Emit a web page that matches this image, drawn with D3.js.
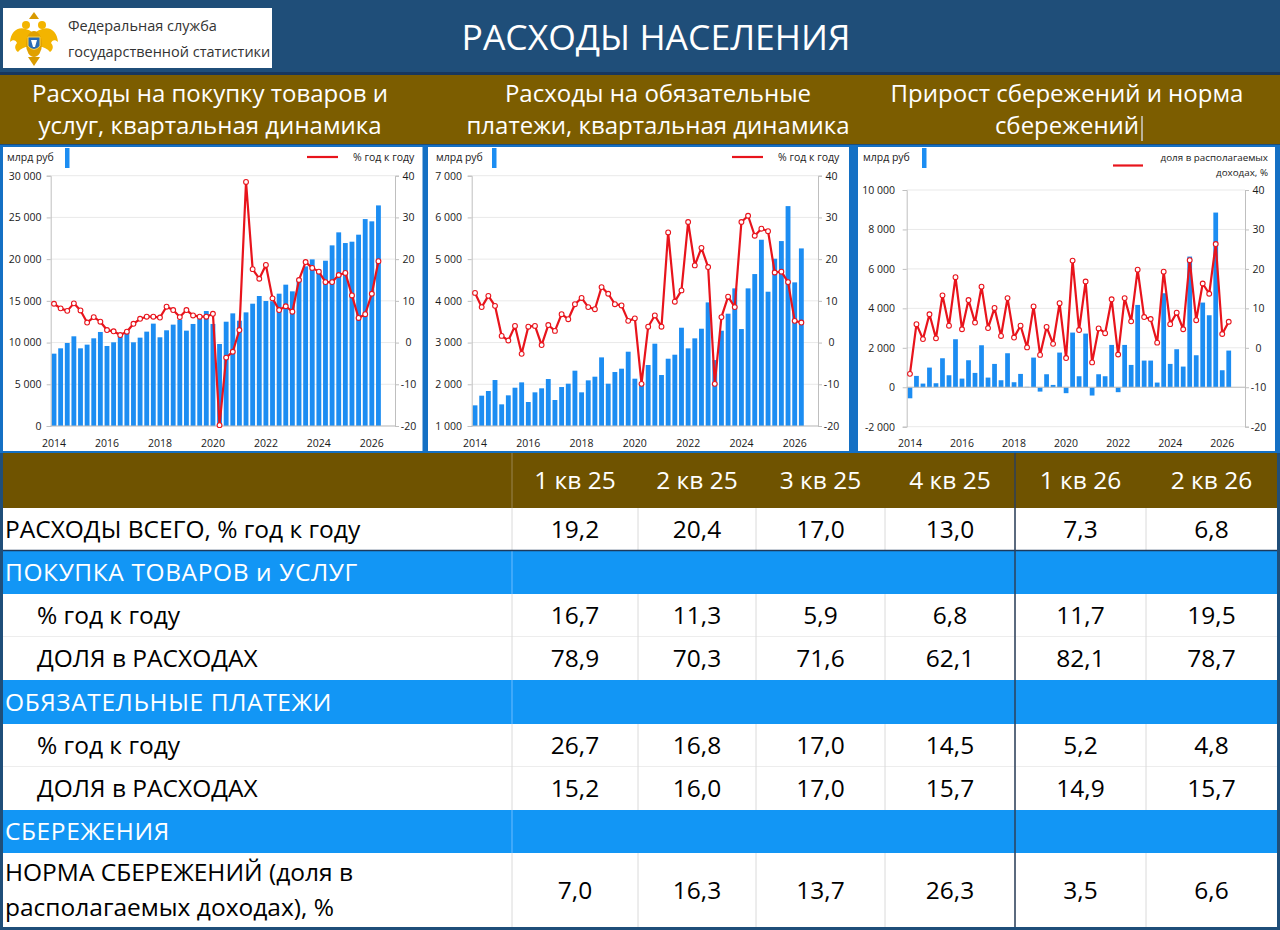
<!DOCTYPE html>
<html lang="ru">
<head>
<meta charset="UTF-8">
<script src="https://d3js.org/d3.v7.min.js"></script>
<style>
  body { margin: 0; background: #1f4e79; overflow: hidden; }
  svg { display: block; font-family: 'Open Sans', 'Noto Sans', sans-serif; }
</style>
</head>
<body>
<div id="slide"></div>
<script>
// ---- данные ----
const years = [2014, 2015, 2016, 2017, 2018, 2019, 2020, 2021, 2022, 2023, 2024, 2025, 2026];
const quarters = years.flatMap(y => [1, 2, 3, 4].map(q => y + "Q" + q));
const yearLabels = ["2014", "2016", "2018", "2020", "2022", "2024", "2026"];

// покупка товаров и услуг, млрд руб
const purchasesBn = [
  8670, 9310, 9950, 10750, 9310, 9750, 10510, 11270, 9590, 10030, 10710, 11270,
  10030, 10590, 11310, 12270, 10630, 11470, 12150, 12750, 11430, 12230, 12820, 13780,
  12230, 9830, 12500, 13500, 12620, 13620, 14660, 15580, 14980, 14960, 15860, 16940,
  16140, 17650, 19130, 19970, 18770, 19810, 21650, 23210, 21930, 22090, 22930, 24800,
  24530, 26440
];
const purchasesYoY = [
  9.3, 8.2, 7.6, 9.4, 7.7, 4.8, 6.1, 5.0, 3.0, 2.7, 1.8, 2.6,
  4.5, 5.7, 6.2, 6.2, 6.0, 8.6, 7.8, 6.1, 7.8, 6.5, 6.2, 6.2,
  6.9, -19.8, -3.6, -2.2, 3.0, 38.5, 17.6, 15.3, 18.6, 10.6, 7.8, 8.7,
  7.4, 15.0, 19.3, 17.9, 17.0, 14.5, 14.5, 16.2, 16.7, 11.3, 5.9, 6.8,
  11.7, 19.5
];

// обязательные платежи, млрд руб
const paymentsBn = [
  1495, 1727, 1839, 2102, 1519, 1735, 1918, 2046, 1575, 1807, 1903, 2126,
  1623, 1934, 2014, 2326, 1807, 2094, 2182, 2645, 2014, 2294, 2374, 2781,
  2134, 1990, 2462, 2973, 2222, 2613, 2709, 3356, 2861, 3101, 3332, 3963,
  2580, 3284, 3692, 4299, 3324, 4299, 4642, 5465, 4219, 5010, 5433, 6271,
  4443, 5257
];
const paymentsYoY = [
  11.9, 8.5, 11.2, 8.8, 1.6, 0.5, 4.0, -2.7, 3.8, 4.0, -0.6, 4.2,
  2.8, 6.8, 5.6, 9.2, 10.7, 8.5, 8.0, 13.3, 11.7, 9.2, 8.9, 5.2,
  5.8, -9.9, 3.8, 6.5, 3.8, 26.4, 9.8, 12.5, 28.9, 18.5, 22.7, 18.1,
  -9.9, 6.1, 11.0, 8.5, 28.9, 30.4, 25.6, 27.3, 26.7, 16.8, 17.0, 14.5,
  5.2, 4.8
];

// прирост сбережений, млрд руб, и норма сбережений, %
const savingsBn = [
  -560, 575, 186, 997, 203, 1470, 608, 2434, 439, 1369, 727, 2129,
  490, 1183, 355, 1724, 254, 676, 20, 1504, -220, 659, 118, 1758,
  -300, 2772, 558, 2721, -420, 659, 558, 2146, -250, 2146, 1132, 4174,
  1352, 1352, 237, 4766, 1183, 1927, 1048, 6625, 1622, 4293, 3650, 8856,
  862, 1859
];
const savingsRate = [
  -6.6, 6.0, 2.2, 8.5, 2.4, 13.3, 5.6, 17.9, 4.7, 12.1, 6.4, 15.5,
  5.0, 10.1, 3.0, 12.6, 2.6, 5.6, 0.1, 10.5, -1.8, 5.3, 1.0, 11.3,
  -2.6, 22.1, 4.5, 16.8, -3.7, 4.9, 3.7, 12.3, -1.7, 12.6, 6.7, 19.8,
  7.8, 7.3, 1.3, 19.3, 6.0, 8.9, 4.7, 22.2, 7.0, 16.3, 13.7, 26.3,
  3.5, 6.6
];

const purchasesTicks = [0, 5000, 10000, 15000, 20000, 25000, 30000];
const paymentsTicks = [1000, 2000, 3000, 4000, 5000, 6000, 7000];
const savingsTicks = [-2000, 0, 2000, 4000, 6000, 8000, 10000];
const pctTicks = [-20, -10, 0, 10, 20, 30, 40];

// таблица
const colLabels = ["1 кв 25", "2 кв 25", "3 кв 25", "4 кв 25", "1 кв 26", "2 кв 26"];
const totalYoY = [19.2, 20.4, 17.0, 13.0, 7.3, 6.8];
const goodsYoY = [16.7, 11.3, 5.9, 6.8, 11.7, 19.5];
const goodsShare = [78.9, 70.3, 71.6, 62.1, 82.1, 78.7];
const payYoY = [26.7, 16.8, 17.0, 14.5, 5.2, 4.8];
const payShare = [15.2, 16.0, 17.0, 15.7, 14.9, 15.7];
const saveRate = [7.0, 16.3, 13.7, 26.3, 3.5, 6.6];

// ---- оформление ----
const navy = "#1f4e79";
const brown = "#7c5d00";
const barBlue = "#1c8df2";
const lineRed = "#e8141c";
const axisText = "#1a1a1a";
const loc = d3.formatLocale({decimal: ",", thousands: " ", grouping: [3], currency: ["", ""], minus: "-"});
const fmtInt = loc.format(",.0f");
const fmtDec = loc.format(".1f");

const svg = d3.select("#slide").append("svg")
  .attr("width", 1280).attr("height", 930);

svg.append("rect").attr("width", 1280).attr("height", 930).attr("fill", navy);

// шапка
const logo = svg.append("g");
logo.append("rect").attr("x", 3).attr("y", 8).attr("width", 269).attr("height", 60).attr("fill", "#fff");
const eagle = logo.append("g").attr("transform", "translate(8,10)");
const gold = "#f3b400";
eagle.append("path").attr("fill", gold)
  .attr("d", "M24,22 C12,14 3,20 2,32 C5,29 8,30 9,33 C6,36 7,40 10,42 C13,38 18,36 24,37 Z");
eagle.append("path").attr("fill", gold)
  .attr("d", "M28,22 C40,14 49,20 50,32 C47,29 44,30 43,33 C46,36 45,40 42,42 C39,38 34,36 28,37 Z");
eagle.append("ellipse").attr("cx", 26).attr("cy", 34).attr("rx", 8).attr("ry", 13).attr("fill", "#e0a000");
eagle.append("circle").attr("cx", 18).attr("cy", 15).attr("r", 4).attr("fill", gold);
eagle.append("circle").attr("cx", 34).attr("cy", 15).attr("r", 4).attr("fill", gold);
eagle.append("path").attr("fill", "#d89a00").attr("d", "M21,9 L26,2 L31,9 Z");
eagle.append("path").attr("fill", "#d89a00").attr("d", "M20,47 L26,56 L32,47 Z");
eagle.append("path").attr("fill", "#2a6bb5").attr("stroke", "#ffd44a").attr("stroke-width", 1)
  .attr("d", "M20,27 L32,27 L32,36 Q26,43 20,36 Z");
eagle.append("path").attr("fill", "#fff").attr("d", "M23,30 L29,30 L27,37 L25,37 Z");
logo.append("text").attr("x", 68).attr("y", 31).attr("font-size", 14.5).attr("fill", "#333")
  .text("Федеральная служба");
logo.append("text").attr("x", 68).attr("y", 57).attr("font-size", 14.5).attr("fill", "#333")
  .text("государственной статистики");

svg.append("text").attr("x", 656).attr("y", 50).attr("text-anchor", "middle")
  .attr("font-size", 35.5).attr("fill", "#fff").text("РАСХОДЫ НАСЕЛЕНИЯ");

svg.append("rect").attr("x", 0).attr("y", 72).attr("width", 1280).attr("height", 3).attr("fill", "#17375e");
svg.append("rect").attr("x", 0).attr("y", 75).attr("width", 1280).attr("height", 69).attr("fill", brown);

const subtitles = [
  {x: 210, lines: ["Расходы на покупку товаров и", "услуг, квартальная динамика"]},
  {x: 658, lines: ["Расходы на обязательные", "платежи, квартальная динамика"]},
  {x: 1067, lines: ["Прирост сбережений и норма", "сбережений"]}
];
subtitles.forEach(s => {
  s.lines.forEach((t, i) => {
    svg.append("text").attr("x", s.x).attr("y", 102 + i * 32).attr("text-anchor", "middle")
      .attr("font-size", 24).attr("fill", "#fff").text(t);
  });
});
// курсор после "сбережений"
svg.append("line").attr("x1", 1142).attr("x2", 1142).attr("y1", 116).attr("y2", 141)
  .attr("stroke", "#cfcfcf").attr("stroke-width", 1.5);

// ---- графики ----
svg.append("rect").attr("x", 0).attr("y", 145).attr("width", 1280).attr("height", 308).attr("fill", "#1470c4");

const panels = [
  {
    box: [3, 147, 419.5, 304], plotL: 50.7, plotR: 395, top: 175.7, bottom: 426,
    yDomain: [0, 30000], yTicks: purchasesTicks, bars: purchasesBn, line: purchasesYoY,
    leftLabelX: 41.5, unitX: 7, swatchX: 65, legLine: [307, 338, 157], legText: ["%  год к году"], legTextX: 353, legAnchor: "start"
  },
  {
    box: [428, 147, 421, 304], plotL: 471.7, plotR: 818, top: 175.7, bottom: 426,
    yDomain: [1000, 7000], yTicks: paymentsTicks, bars: paymentsBn, line: paymentsYoY,
    leftLabelX: 462, unitX: 436, swatchX: 492, legLine: [732, 763, 157], legText: ["%  год к году"], legTextX: 778, legAnchor: "start"
  },
  {
    box: [858, 147, 417, 304], plotL: 906.7, plotR: 1245, top: 190, bottom: 426.7,
    yDomain: [-2000, 10000], yTicks: savingsTicks, bars: savingsBn, line: savingsRate,
    leftLabelX: 895, unitX: 863, swatchX: 922, legLine: [1113, 1143, 165.5], legText: ["доля в располагаемых", "доходах, %"], legTextX: 1268, legAnchor: "end"
  }
];

panels.forEach(p => {
  const g = svg.append("g");
  g.append("rect").attr("x", p.box[0]).attr("y", p.box[1]).attr("width", p.box[2]).attr("height", p.box[3]).attr("fill", "#fff");

  const x = d3.scaleBand().domain(quarters).range([p.plotL, p.plotR]).paddingInner(0.27).paddingOuter(0.135);
  const yL = d3.scaleLinear().domain(p.yDomain).range([p.bottom, p.top]);
  const yR = d3.scaleLinear().domain([-20, 40]).range([p.bottom, p.top]);
  const data = p.bars.map((v, i) => ({q: quarters[i], v: v, r: p.line[i]}));

  // сетка
  g.selectAll(".grid").data(p.yTicks).join("line")
    .attr("x1", p.plotL).attr("x2", p.plotR)
    .attr("y1", d => yL(d)).attr("y2", d => yL(d))
    .attr("stroke", "#e9e9e9").attr("stroke-width", 1);

  // столбцы
  const base = Math.max(p.yDomain[0], 0);
  g.selectAll(".bar").data(data).join("rect")
    .attr("x", d => x(d.q)).attr("width", x.bandwidth())
    .attr("y", d => yL(Math.max(d.v, base)))
    .attr("height", d => Math.abs(yL(d.v) - yL(base)))
    .attr("fill", barBlue);

  // левая ось
  const ax = g.append("g").attr("transform", `translate(${p.plotL},0)`)
    .call(d3.axisLeft(yL).tickValues(p.yTicks).tickSize(4).tickPadding(p.plotL - p.leftLabelX - 4).tickFormat(fmtInt));
  ax.select(".domain").attr("stroke", "#bfbfbf");
  ax.selectAll(".tick line").attr("stroke", "#bfbfbf");
  ax.selectAll("text").attr("font-size", 10.5).attr("fill", axisText).attr("font-family", "'Open Sans', sans-serif");

  // правая ось
  const ar = g.append("g").attr("transform", `translate(${p.plotR},0)`)
    .call(d3.axisRight(yR).tickValues(pctTicks).tickSize(4).tickPadding(4).tickFormat(fmtInt));
  ar.select(".domain").attr("stroke", "#bfbfbf");
  ar.selectAll(".tick line").attr("stroke", "#bfbfbf");
  ar.selectAll("text").attr("x", 13.5).attr("text-anchor", "middle")
    .attr("font-size", 10.5).attr("fill", axisText).attr("font-family", "'Open Sans', sans-serif");

  // горизонтальная ось
  const y0 = yL(base);
  g.append("line").attr("x1", p.plotL).attr("x2", p.plotR).attr("y1", y0).attr("y2", y0)
    .attr("stroke", "#bfbfbf").attr("stroke-width", 1);
  g.selectAll(".xl").data(yearLabels).join("text")
    .attr("x", d => x(d + "Q1") + x.bandwidth() / 2).attr("y", 446.5)
    .attr("text-anchor", "middle").attr("font-size", 10.5).attr("fill", axisText).text(d => d);

  // линия
  const line = d3.line().x(d => x(d.q) + x.bandwidth() / 2).y(d => yR(d.r));
  g.append("path").datum(data).attr("d", line)
    .attr("fill", "none").attr("stroke", lineRed).attr("stroke-width", 2.2).attr("stroke-linejoin", "round");
  g.selectAll(".dot").data(data).join("circle")
    .attr("cx", d => x(d.q) + x.bandwidth() / 2).attr("cy", d => yR(d.r)).attr("r", 2.4)
    .attr("fill", "#fff").attr("stroke", lineRed).attr("stroke-width", 1.1);

  // легенда
  g.append("text").attr("x", p.unitX).attr("y", 161).attr("font-size", 10.5).attr("fill", axisText).text("млрд руб");
  g.append("rect").attr("x", p.swatchX).attr("y", 148).attr("width", 4.5).attr("height", 20).attr("fill", barBlue);
  g.append("line").attr("x1", p.legLine[0]).attr("x2", p.legLine[1]).attr("y1", p.legLine[2]).attr("y2", p.legLine[2])
    .attr("stroke", lineRed).attr("stroke-width", 2.2);
  p.legText.forEach((t, i) => {
    g.append("text").attr("x", p.legTextX).attr("y", 161 + i * 15).attr("text-anchor", p.legAnchor)
      .attr("font-size", p.legText.length > 1 ? 9.8 : 10.5).attr("fill", axisText).text(t);
  });
});

// ---- таблица ----
const colX = [512, 638, 756, 885, 1015, 1146, 1277];
const rowY = [453, 508, 551, 594, 637, 680, 724, 767, 810, 853, 927];
const tableRows = [
  {kind: "head"},
  {kind: "data", label: ["РАСХОДЫ ВСЕГО, % год к году"], indent: 5, values: totalYoY},
  {kind: "band", label: ["ПОКУПКА ТОВАРОВ и УСЛУГ"]},
  {kind: "data", label: ["% год к году"], indent: 37, values: goodsYoY},
  {kind: "data", label: ["ДОЛЯ в РАСХОДАХ"], indent: 37, values: goodsShare},
  {kind: "band", label: ["ОБЯЗАТЕЛЬНЫЕ ПЛАТЕЖИ"]},
  {kind: "data", label: ["% год к году"], indent: 37, values: payYoY},
  {kind: "data", label: ["ДОЛЯ в РАСХОДАХ"], indent: 37, values: payShare},
  {kind: "band", label: ["СБЕРЕЖЕНИЯ"]},
  {kind: "data", label: ["НОРМА СБЕРЕЖЕНИЙ (доля в", "располагаемых доходах), %"], indent: 5, values: saveRate}
];
const tbl = svg.append("g");
const fs = 24.5;
tableRows.forEach((r, i) => {
  const y0 = rowY[i], y1 = rowY[i + 1], cy = (y0 + y1) / 2;
  const fill = r.kind === "head" ? "#6f5300" : r.kind === "band" ? "#1296f5" : "#fff";
  tbl.append("rect").attr("x", 3).attr("y", y0).attr("width", 1274).attr("height", y1 - y0).attr("fill", fill);
  if (r.kind === "head") {
    tbl.append("line").attr("x1", 512).attr("x2", 512).attr("y1", y0).attr("y2", y1).attr("stroke", "#9a8550");
    colLabels.forEach((c, j) => {
      tbl.append("text").attr("x", (colX[j] + colX[j + 1]) / 2).attr("y", cy).attr("dy", "0.36em")
        .attr("text-anchor", "middle").attr("font-size", fs).attr("fill", "#fff").text(c);
    });
  } else if (r.kind === "band") {
    tbl.append("line").attr("x1", 512).attr("x2", 512).attr("y1", y0).attr("y2", y1).attr("stroke", "#6cbcff");
    tbl.append("text").attr("x", 5).attr("y", cy).attr("dy", "0.36em")
      .attr("font-size", fs).attr("letter-spacing", 0.6).attr("fill", "#fff").text(r.label[0]);
  } else {
    colX.slice(0, 6).forEach(cx => {
      tbl.append("line").attr("x1", cx).attr("x2", cx).attr("y1", y0).attr("y2", y1).attr("stroke", "#dadada");
    });
    if (tableRows[i + 1] && tableRows[i + 1].kind === "data") {
      tbl.append("line").attr("x1", 3).attr("x2", 1277).attr("y1", y1).attr("y2", y1).attr("stroke", "#dadada");
    }
    r.label.forEach((t, k) => {
      const ly = r.label.length > 1 ? cy + (k - 0.5) * 35 : cy;
      tbl.append("text").attr("x", r.indent).attr("y", ly).attr("dy", "0.36em")
        .attr("font-size", fs).attr("fill", "#000").text(t);
    });
    r.values.forEach((v, j) => {
      tbl.append("text").attr("x", (colX[j] + colX[j + 1]) / 2).attr("y", cy).attr("dy", "0.36em")
        .attr("text-anchor", "middle").attr("font-size", fs).attr("fill", "#000").text(fmtDec(v));
    });
  }
});
// разделители
tbl.append("line").attr("x1", 3).attr("x2", 1277).attr("y1", 550.5).attr("y2", 550.5)
  .attr("stroke", "#1d3a5c").attr("stroke-width", 1.5);
tbl.append("line").attr("x1", 1015).attr("x2", 1015).attr("y1", 453).attr("y2", 927)
  .attr("stroke", "#2b3f5a").attr("stroke-width", 1.5);
</script>
</body>
</html>
